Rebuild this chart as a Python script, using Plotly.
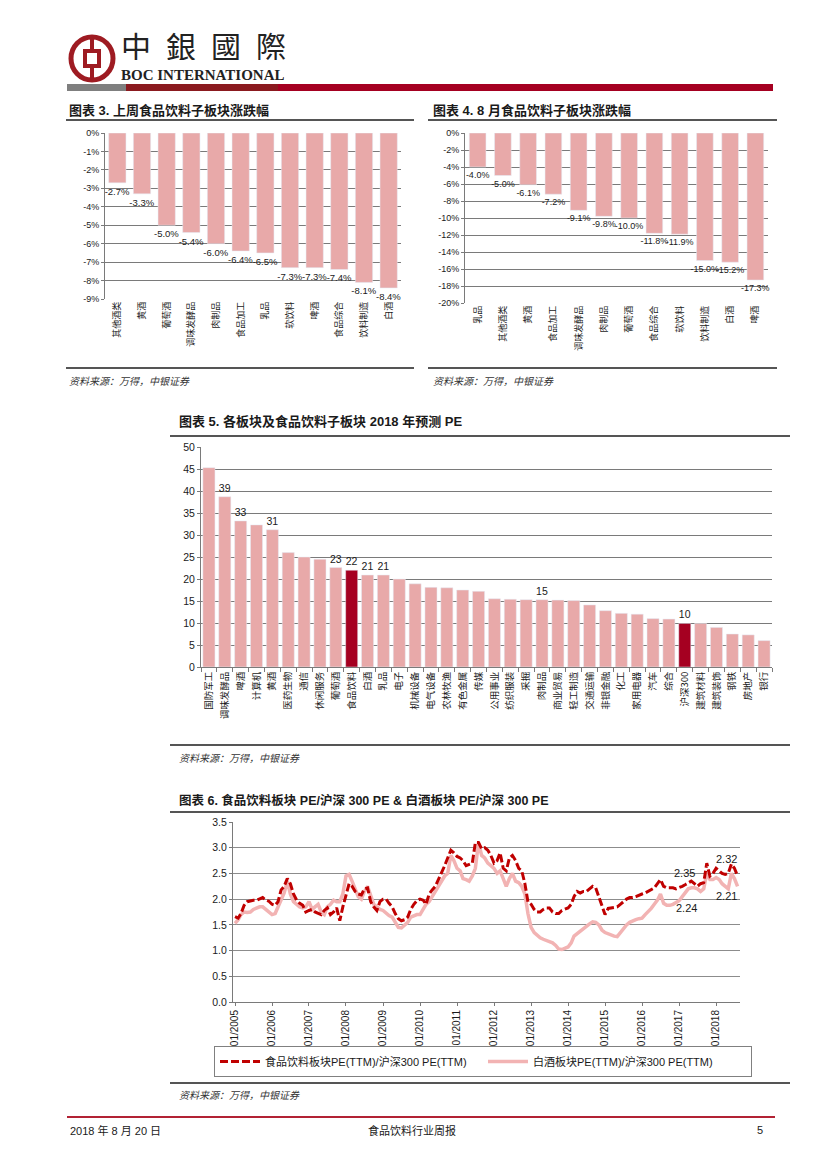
import plotly.graph_objects as go
import pandas as pd

W, H = 827, 1169
OFF = 8  # page body margin of the browser


def fx(p):
    return (p - OFF) / W


def fy(p):
    return 1 - (p - OFF) / H


# ---------------- data ----------------
# Chart 3: weekly change of food & beverage sub-sectors (%)
weekly_cats = ["其他酒类", "黄酒", "葡萄酒", "调味发酵品", "肉制品", "食品加工",
               "乳品", "软饮料", "啤酒", "食品综合", "饮料制造", "白酒"]
weekly_vals = [-2.7, -3.3, -5.0, -5.4, -6.0, -6.4, -6.5, -7.3, -7.3, -7.4, -8.1, -8.4]
weekly_ticks = [0, -1, -2, -3, -4, -5, -6, -7, -8, -9]

# Chart 4: August change of food & beverage sub-sectors (%)
aug_cats = ["乳品", "其他酒类", "黄酒", "食品加工", "调味发酵品", "肉制品",
            "葡萄酒", "食品综合", "软饮料", "饮料制造", "白酒", "啤酒"]
aug_vals = [-4.0, -5.0, -6.1, -7.2, -9.1, -9.8, -10.0, -11.8, -11.9, -15.0, -15.2, -17.3]
aug_ticks = [0, -2, -4, -6, -8, -10, -12, -14, -16, -18, -20]

# Chart 5: 2018 forecast PE by sector
pe_cats = ["国防军工", "调味发酵品", "啤酒", "计算机", "黄酒", "医药生物", "通信",
           "休闲服务", "葡萄酒", "食品饮料", "白酒", "乳品", "电子", "机械设备",
           "电气设备", "农林牧渔", "有色金属", "传媒", "公用事业", "纺织服装", "采掘",
           "肉制品", "商业贸易", "轻工制造", "交通运输", "非银金融", "化工", "家用电器",
           "汽车", "综合", "沪深300", "建筑材料", "建筑装饰", "钢铁", "房地产", "银行"]
pe_vals = [45.3, 38.7, 33.2, 32.3, 31.2, 26.0, 25.0, 24.5, 22.6, 22.0, 20.9, 20.9,
           20.0, 18.9, 18.1, 18.0, 17.5, 17.2, 15.5, 15.4, 15.3, 15.3, 15.2, 15.1,
           14.1, 12.8, 12.2, 12.0, 11.0, 10.9, 9.9, 9.9, 9.0, 7.5, 7.3, 6.0]
pe_labeled = ["调味发酵品", "啤酒", "黄酒", "葡萄酒", "食品饮料", "白酒", "乳品", "肉制品", "沪深300"]
pe_highlight = ["食品饮料", "沪深300"]

# Chart 6: monthly PE ratios vs CSI300, Jan 2005 - Aug 2018
food_ratio = [
    1.66, 1.63, 1.72, 1.88, 1.95, 1.97, 1.98, 1.98, 2.00, 2.03, 1.98, 1.96,
    1.90, 1.88, 1.95, 2.18, 2.25, 2.40, 2.30, 2.10, 1.98, 1.92, 1.88, 1.75,
    1.78, 1.80, 1.75, 1.73, 1.70, 1.78, 1.83, 1.70, 1.75, 1.83, 1.58, 1.85,
    2.10, 2.30, 2.25, 2.15, 2.10, 2.08, 2.20, 2.22, 1.95, 1.85, 1.78, 1.95,
    2.00, 2.00, 1.92, 1.85, 1.72, 1.62, 1.58, 1.60, 1.65, 1.80, 1.90, 1.97,
    2.00, 1.98, 1.90, 2.10, 2.18, 2.25, 2.38, 2.50, 2.65, 2.80, 2.95, 2.90,
    2.83, 2.80, 2.75, 2.65, 2.68, 2.70, 3.10, 3.10, 2.98, 3.00, 2.95, 2.85,
    2.70, 2.75, 2.90, 2.60, 2.55, 2.80, 2.85, 2.75, 2.60, 2.55, 2.30, 1.95,
    1.90, 1.80, 1.75, 1.75, 1.80, 1.83, 1.83, 1.75, 1.72, 1.72, 1.78, 1.80,
    1.83, 1.90, 2.05, 2.15, 2.12, 2.15, 2.15, 2.20, 2.25, 2.22, 2.05, 1.88,
    1.70, 1.82, 1.83, 1.83, 1.85, 1.90, 1.95, 2.00, 2.03, 2.03, 2.05, 2.08,
    2.10, 2.12, 2.15, 2.18, 2.22, 2.30, 2.38, 2.25, 2.22, 2.22, 2.22, 2.20,
    2.22, 2.25, 2.28, 2.32, 2.35, 2.30, 2.25, 2.30, 2.32, 2.70, 2.45, 2.50,
    2.60, 2.55, 2.50, 2.48, 2.50, 2.68, 2.60, 2.45,
]
baijiu_ratio = [
    1.53, 1.60, 1.70, 1.75, 1.74, 1.75, 1.80, 1.83, 1.85, 1.85, 1.80, 1.75,
    1.70, 1.72, 1.85, 2.00, 2.12, 2.35, 2.10, 1.95, 1.90, 1.85, 1.83, 1.85,
    1.95, 1.80, 1.85, 1.90, 1.75, 1.70, 1.85, 1.90, 1.98, 1.95, 1.95, 2.10,
    2.45, 2.48, 2.35, 2.20, 2.05, 2.00, 2.15, 2.25, 2.05, 1.90, 1.85, 1.80,
    1.78, 1.72, 1.68, 1.65, 1.55, 1.45, 1.44, 1.50, 1.55, 1.65, 1.68, 1.70,
    1.70, 1.80, 1.90, 1.95, 2.05, 2.12, 2.25, 2.35, 2.45, 2.50, 2.85, 2.75,
    2.60, 2.55, 2.40, 2.38, 2.35, 2.45, 2.60, 3.10, 2.85, 2.80, 2.70, 2.65,
    2.60, 2.50, 2.55, 2.40, 2.25, 2.40, 2.50, 2.35, 2.32, 2.25, 2.10, 1.72,
    1.45, 1.35, 1.30, 1.25, 1.22, 1.20, 1.17, 1.15, 1.10, 1.03, 1.02, 1.05,
    1.07, 1.15, 1.28, 1.33, 1.38, 1.42, 1.48, 1.52, 1.56, 1.55, 1.50, 1.40,
    1.35, 1.32, 1.30, 1.28, 1.27, 1.35, 1.40, 1.50, 1.55, 1.58, 1.60, 1.62,
    1.63, 1.70, 1.75, 1.82, 1.90, 1.98, 2.10, 1.92, 1.88, 1.88, 1.90, 1.93,
    1.97, 2.05, 2.12, 2.20, 2.22, 2.22, 2.20, 2.15, 2.20, 2.50, 2.38, 2.38,
    2.42, 2.38, 2.30, 2.25, 2.20, 2.50, 2.40, 2.25,
]
months = pd.date_range("2005-01-01", periods=len(food_ratio), freq="MS")

# ---------------- style ----------------
PINK = "#E8A9A9"
DARKRED = "#A50021"
GRID = "#7A7A7A"
TXT = "#1a1a1a"
NUMF = "Liberation Sans, Noto Sans CJK SC"
CJKF = "Noto Sans CJK SC"
TITLEF = "Liberation Sans, Noto Sans CJK SC"

fig = go.Figure()

fig.add_trace(go.Bar(
    x=weekly_cats, y=weekly_vals, xaxis="x", yaxis="y", marker_color=PINK, width=0.7,
    text=[f"{v:.1f}%" for v in weekly_vals], textposition="outside", cliponaxis=False,
    constraintext="none", textfont=dict(family=NUMF, size=9.5, color=TXT), showlegend=False))

fig.add_trace(go.Bar(
    x=aug_cats, y=aug_vals, xaxis="x2", yaxis="y2", marker_color=PINK, width=0.66,
    text=[f"{v:.1f}%" for v in aug_vals], textposition="outside", cliponaxis=False,
    constraintext="none", textfont=dict(family=NUMF, size=9, color=TXT), showlegend=False))

fig.add_trace(go.Bar(
    x=pe_cats, y=pe_vals, xaxis="x3", yaxis="y3", width=0.76,
    marker_color=[DARKRED if c in pe_highlight else PINK for c in pe_cats],
    text=[f"{v:.0f}" if c in pe_labeled else "" for c, v in zip(pe_cats, pe_vals)],
    textposition="outside", cliponaxis=False, constraintext="none",
    textfont=dict(family=NUMF, size=10.5, color=TXT), showlegend=False))

fig.add_trace(go.Scatter(
    x=months, y=baijiu_ratio, xaxis="x4", yaxis="y4", mode="lines",
    line=dict(color="#F2B3B3", width=3.5), name="白酒板块PE(TTM)/沪深300 PE(TTM)",
    legendrank=2))
fig.add_trace(go.Scatter(
    x=months, y=food_ratio, xaxis="x4", yaxis="y4", mode="lines",
    line=dict(color="#C00000", width=3, dash="8px,3px"),
    name="食品饮料板块PE(TTM)/沪深300 PE(TTM)", legendrank=1))

cat_axis = dict(type="category", tickangle=-90, showgrid=False, ticks="", showline=False,
                tickfont=dict(family=CJKF, size=9, color=TXT))
val_axis = dict(showgrid=True, gridcolor=GRID, gridwidth=1, zeroline=False, showline=True,
                linecolor=GRID, ticks="outside", ticklen=3, tickcolor=GRID,
                tickfont=dict(family=NUMF, size=9, color=TXT))

fig.update_layout(
    width=W, height=H, margin=dict(l=0, r=0, t=0, b=0, pad=0, autoexpand=False),
    paper_bgcolor="white", plot_bgcolor="white", bargap=0.3,
    xaxis=dict(domain=[fx(105), fx(401)], anchor="y", **cat_axis),
    yaxis=dict(domain=[fy(299), fy(133)], anchor="x", range=[-9, 0],
               tickvals=weekly_ticks, ticktext=[f"{t}%" for t in weekly_ticks], **val_axis),
    xaxis2=dict(domain=[fx(465), fx(768)], anchor="y2", **cat_axis),
    yaxis2=dict(domain=[fy(303), fy(133)], anchor="x2", range=[-20, 0],
                tickvals=aug_ticks, ticktext=[f"{t}%" for t in aug_ticks], **val_axis),
    xaxis3=dict(domain=[fx(201), fx(772)], anchor="y3", type="category", tickangle=-90,
                showgrid=False, showline=True, linecolor=GRID, ticks="outside",
                tickson="boundaries", ticklen=4, tickcolor=GRID,
                tickfont=dict(family=CJKF, size=9.5, color=TXT)),
    yaxis3=dict(domain=[fy(667), fy(447)], anchor="x3", range=[0, 50], dtick=5,
                showgrid=True, gridcolor=GRID, gridwidth=1, zeroline=False, showline=True,
                linecolor=GRID, ticks="outside", ticklen=3, tickcolor=GRID,
                tickfont=dict(family=NUMF, size=10.5, color=TXT)),
    xaxis4=dict(domain=[fx(233), fx(740)], anchor="y4", type="date",
                range=["2004-12-12", "2018-08-25"], tick0="2005-01-01", dtick="M12",
                tickformat="%m/%Y", tickangle=-90, showgrid=False, showline=True,
                linecolor=GRID, ticks="outside", ticklen=3, tickcolor=GRID,
                tickfont=dict(family=NUMF, size=10, color=TXT)),
    yaxis4=dict(domain=[fy(1002), fy(822)], anchor="x4", range=[0, 3.5], dtick=0.5,
                tickformat=".1f", showgrid=True, gridcolor="#8C8C8C", gridwidth=1,
                zeroline=False, showline=True, linecolor=GRID, ticks="outside", ticklen=3,
                tickcolor=GRID, tickfont=dict(family=NUMF, size=10.5, color=TXT)),
    legend=dict(orientation="h", x=fx(214), y=fy(1046), xanchor="left", yanchor="top",
                bordercolor="#808080", borderwidth=1, bgcolor="white",
                font=dict(family=TITLEF, size=11, color=TXT), entrywidth=213,
                itemwidth=40, traceorder="normal"),
    showlegend=True,
)

shapes = []
annotations = []


def hline(x0, x1, y, color="#555555", width=2):
    shapes.append(dict(type="line", xref="paper", yref="paper", x0=fx(x0), x1=fx(x1),
                       y0=fy(y), y1=fy(y), line=dict(color=color, width=width)))


def rect(x0, x1, y0, y1, color):
    shapes.append(dict(type="rect", xref="paper", yref="paper", x0=fx(x0), x1=fx(x1),
                       y0=fy(y1), y1=fy(y0), fillcolor=color, line=dict(width=0)))


def text(x, y, s, size=11, family=TITLEF, xanchor="left", color=TXT, bold=False,
         italic=False, height=None):
    a = dict(xref="paper", yref="paper", x=fx(x), y=fy(y), text=s,
             showarrow=False, xanchor=xanchor, yanchor="middle",
             font=dict(family=family, size=size, color=color,
                       weight="bold" if bold else "normal",
                       style="italic" if italic else "normal"))
    if height:
        a["height"] = height
    annotations.append(a)


# header: logo
LOGO = "#9E1B22"
shapes.append(dict(type="circle", xref="paper", yref="paper", x0=fx(71), x1=fx(113),
                   y0=fy(80), y1=fy(37), line=dict(color=LOGO, width=5)))
shapes.append(dict(type="rect", xref="paper", yref="paper", x0=fx(85), x1=fx(99),
                   y0=fy(66), y1=fy(51), line=dict(color=LOGO, width=4)))
shapes.append(dict(type="line", xref="paper", yref="paper", x0=fx(92), x1=fx(92),
                   y0=fy(38), y1=fy(51), line=dict(color=LOGO, width=4)))
shapes.append(dict(type="line", xref="paper", yref="paper", x0=fx(92), x1=fx(92),
                   y0=fy(66), y1=fy(79), line=dict(color=LOGO, width=4)))
text(119, 45, "中\u2002銀\u2002國\u2002際", size=30, family="Noto Sans CJK TC", color="#222",
     height=30)
text(119, 75, "BOC INTERNATIONAL", size=15, family="Liberation Serif", color="#222",
     bold=True, height=13)
rect(67, 126, 84, 91, "#7F7F7F")
rect(126, 278, 84, 91, "#8B1A1F")
rect(278, 773, 84, 91, "#A50021")

# chart 3
text(67, 110, "图表 3. 上周食品饮料子板块涨跌幅", size=13, bold=True)
hline(66, 414, 120)
hline(66, 414, 368)
text(67, 380, "资料来源：万得，中银证券", size=10, family=CJKF, italic=True, color="#333")

# chart 4
text(431, 110, "图表 4. 8 月食品饮料子板块涨跌幅", size=13, bold=True)
hline(428, 777, 120)
hline(428, 777, 368)
text(431, 380, "资料来源：万得，中银证券", size=10, family=CJKF, italic=True, color="#333")

# chart 5
text(177, 421, "图表 5. 各板块及食品饮料子板块 2018 年预测 PE", size=13, bold=True)
hline(170, 790, 436)
hline(170, 790, 745)
text(177, 757, "资料来源：万得，中银证券", size=10, family=CJKF, italic=True, color="#333")

# chart 6
text(177, 800, "图表 6. 食品饮料板块 PE/沪深 300 PE & 白酒板块 PE/沪深 300 PE", size=12.5, bold=True)
hline(170, 790, 812)
hline(170, 790, 1083)
text(177, 1094, "资料来源：万得，中银证券", size=10, family=CJKF, italic=True, color="#333")

for xv, yv, s in [("2017-02-20", 2.51, "2.35"), ("2017-03-10", 1.83, "2.24"),
                  ("2018-04-10", 2.78, "2.32"), ("2018-04-10", 2.06, "2.21")]:
    annotations.append(dict(xref="x4", yref="y4", x=xv, y=yv, text=s, showarrow=False,
                            font=dict(family=NUMF, size=11, color=TXT)))

# footer
hline(67, 775, 1117, color="#B22234", width=2)
text(68, 1130, "2018 年 8 月 20 日", size=11, family=TITLEF)
text(412, 1130, "食品饮料行业周报", size=11, family=CJKF, xanchor="center")
text(765, 1130, "5", size=11, family=NUMF, xanchor="right")

fig.update_layout(shapes=shapes, annotations=annotations)
fig.write_html("out.html")
